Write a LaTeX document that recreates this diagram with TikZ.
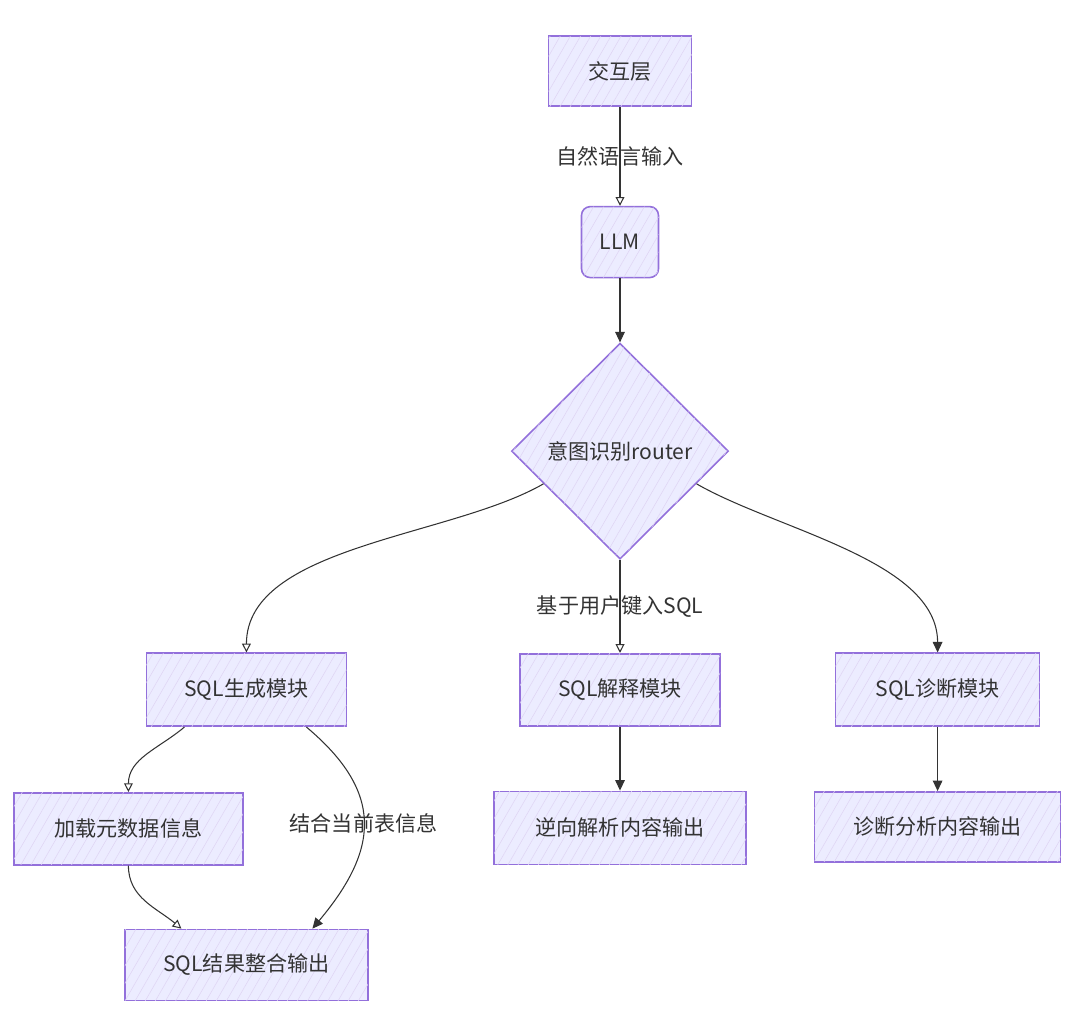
\documentclass[tikz,border=0pt]{standalone}
\usepackage{fontspec}
\setmainfont{Noto Sans CJK SC}
\usepackage{tikz}
\usetikzlibrary{shapes.geometric, arrows.meta, positioning, calc, patterns.meta}

\definecolor{mmfill}{HTML}{ECECFF}
\definecolor{mmline}{HTML}{9370DB}
\definecolor{mmtext}{HTML}{333333}

\begin{document}
\begin{tikzpicture}[
    bx/.style={rectangle, draw=mmline, line width=0.9pt, fill=mmfill, inner sep=0pt,
               postaction={pattern color=mmline!30, pattern={Lines[angle=60, distance=5pt, line width=0.3pt]}},
               font=\fontsize{12}{14}\selectfont, text=mmtext},
    lbl/.style={font=\fontsize{12}{14}\selectfont, text=mmtext},
    arr/.style={-{Triangle[open, length=5pt, width=5pt]}, line width=0.6pt, color=mmtext},
    arrf/.style={-{Triangle[length=6pt, width=5.5pt]}, line width=0.6pt, color=mmtext},
]
\useasboundingbox (0,0) rectangle (21.6,-20.48);

% Input and router
\node[bx, minimum width=2.86cm, minimum height=1.4cm] (ui) at (12.4,-1.42) {交互层};
\node[bx, rounded corners=5pt, minimum width=1.54cm, minimum height=1.42cm, below=1.98cm of ui] (llm) {LLM};
\node[bx, diamond, minimum width=4.34cm, minimum height=4.32cm, below=1.28cm of llm] (router) {意图识别router};

% Modules
\node[bx, minimum width=4cm, minimum height=1.44cm, below=1.86cm of router] (expl) {SQL解释模块};
\node[bx, minimum width=4cm, minimum height=1.46cm, left=3.44cm of expl] (gen) {SQL生成模块};
\node[bx, minimum width=4.08cm, minimum height=1.46cm, right=2.28cm of expl] (diag) {SQL诊断模块};

% Outputs
\node[bx, minimum width=5.04cm, minimum height=1.46cm, below=1.28cm of expl] (rev) {逆向解析内容输出};
\node[bx, minimum width=4.92cm, minimum height=1.4cm, below=1.28cm of diag] (diagout) {诊断分析内容输出};
\node[bx, minimum width=4.58cm, minimum height=1.44cm, below=1.3cm of gen, xshift=-2.36cm] (meta) {加载元数据信息};
\node[bx, minimum width=4.86cm, minimum height=1.42cm, below=1.26cm of meta, xshift=2.36cm] (merge) {SQL结果整合输出};

% Arrows top
\draw[arr] (ui) -- node[lbl] {自然语言输入} (llm);
\draw[arrf] (llm) -- (router);

% Arrows router
\draw[arr] ($(router.west)!0.3!(router.south)$) to[out=-150, in=90, looseness=0.8] (gen.north);
\draw[arr] (router) -- node[lbl] {基于用户键入SQL} (expl);
\draw[arrf] ($(router.east)!0.3!(router.south)$) to[out=-30, in=90, looseness=0.8] (diag.north);

% Arrows modules
\draw[arrf] (expl) -- (rev);
\draw[arrf] (diag) -- (diagout);
\draw[arr] ([xshift=-1.24cm]gen.south) to[out=-140, in=90] (meta.north);
\draw[arrf] ([xshift=1.2cm]gen.south) to[out=-40, in=50, looseness=1.3] node[lbl] {结合当前表信息} ([xshift=1.32cm]merge.north);
\draw[arr] (meta.south) to[out=-90, in=140] ([xshift=-1.3cm]merge.north);
\end{tikzpicture}
\end{document}
